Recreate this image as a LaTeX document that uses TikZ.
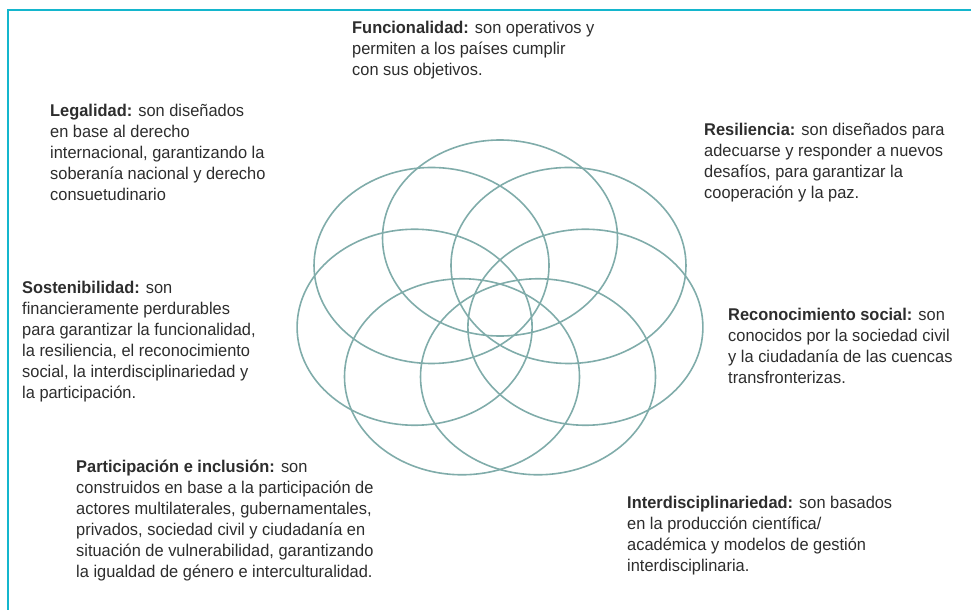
\documentclass[tikz,border=0pt]{standalone}
\usepackage{fontspec}
\setmainfont[FakeStretch=0.965]{Liberation Sans}
\usetikzlibrary{calc}

\definecolor{petal}{RGB}{128,172,170}
\definecolor{frame}{RGB}{20,182,205}
\definecolor{ink}{RGB}{45,45,45}

\begin{document}
\begin{tikzpicture}[x=1pt, y=-1pt,
	blurb/.style={anchor=north west, inner sep=0pt, align=left, text=ink,
		font=\fontsize{17}{21}\selectfont},
	petalline/.style={draw=petal, line width=1.6pt}]

% Define coordinates.

	\useasboundingbox (0,0) rectangle (971,610);
	\coordinate (flower) at (500,311);

	%frame corner
	\coordinate (frameTop) at (971,10);
	\coordinate (frameCorner) at (8,10);
	\coordinate (frameBottom) at (8,610);

% Draw frame.

	\draw[frame, line width=1.6pt] (frameTop) -- (frameCorner) -- (frameBottom);

% Draw petals.

	\foreach \i in {0,...,6}{
		\pgfmathsetmacro{\ang}{90+\i*360/7}
		\coordinate (c\i) at ($(flower)+({87.6*cos(\ang)},{-73*sin(\ang)})$);
		\draw[petalline] (c\i) ellipse [x radius=117.5, y radius=98];
	}

% Draw texts.

	\node[blurb] (func) at (352,21) {\textbf{Funcionalidad:} son operativos y\\
		permiten a los países cumplir\\con sus objetivos.};

	\node[blurb] (legal) at (50,104) {\textbf{Legalidad:} son diseñados\\
		en base al derecho\\internacional, garantizando la\\
		soberanía nacional y derecho\\consuetudinario};

	\node[blurb] (resil) at (704,123) {\textbf{Resiliencia:} son diseñados para\\
		adecuarse y responder a nuevos\\desafíos, para garantizar la\\
		cooperación y la paz.};

	\node[blurb] (sosten) at (22,281) {\textbf{Sostenibilidad:} son\\
		financieramente perdurables\\para garantizar la funcionalidad,\\
		la resiliencia, el reconocimiento\\social, la interdisciplinariedad y\\
		la participación.};

	\node[blurb] (recon) at (728,308) {\textbf{Reconocimiento social:} son\\
		conocidos por la sociedad civil\\y la ciudadanía de las cuencas\\
		transfronterizas.};

	\node[blurb] (partic) at (76,460) {\textbf{Participación e inclusión:} son\\
		construidos en base a la participación de\\
		actores multilaterales, gubernamentales,\\
		privados, sociedad civil y ciudadanía en\\
		situación de vulnerabilidad, garantizando\\
		la igualdad de género e interculturalidad.};

	\node[blurb] (inter) at (627,496) {\textbf{Interdisciplinariedad:} son basados\\
		en la producción científica/\\académica y modelos de gestión\\
		interdisciplinaria.};

\end{tikzpicture}
\end{document}
